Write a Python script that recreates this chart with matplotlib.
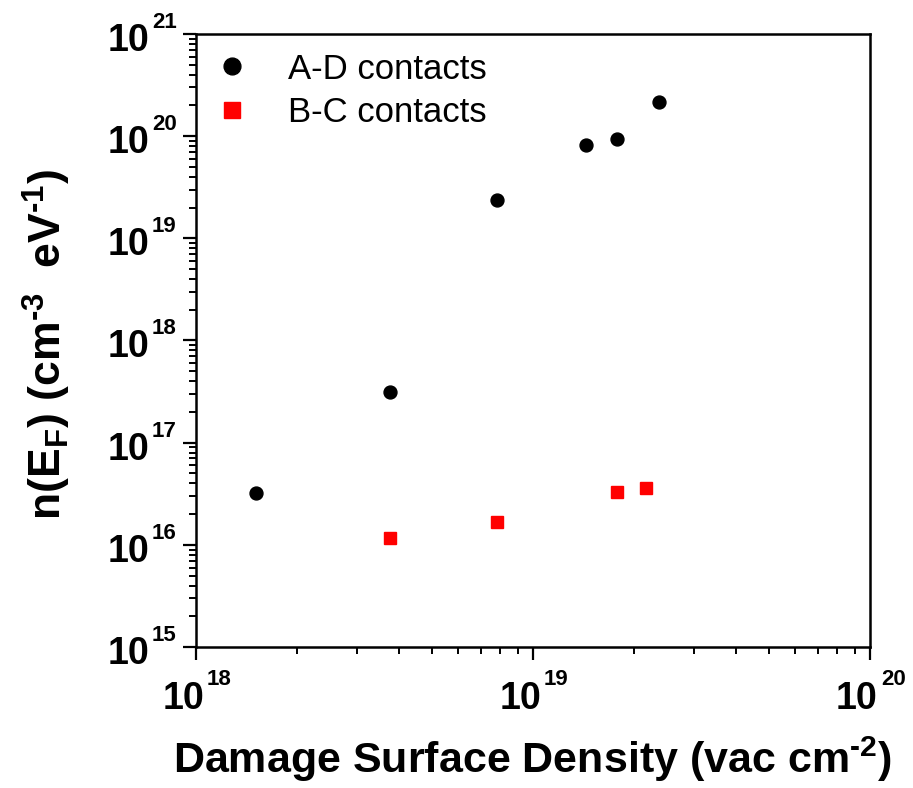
import matplotlib
matplotlib.use("Agg")
import matplotlib.pyplot as plt
from matplotlib.ticker import LogLocator, NullFormatter
import numpy as np

plt.rcParams["font.family"] = ["Liberation Sans", "DejaVu Sans"]
plt.rcParams["mathtext.fontset"] = "custom"
plt.rcParams["mathtext.rm"] = "Liberation Sans:bold"
plt.rcParams["mathtext.bf"] = "Liberation Sans:bold"
plt.rcParams["mathtext.it"] = "Liberation Sans:bold"

# Data
ad_x = [1.51e18, 3.76e18, 7.8e18, 1.44e19, 1.77e19, 2.37e19]
ad_y = [3.2e16, 3.1e17, 2.37e19, 8.2e19, 9.3e19, 2.17e20]
bc_x = [3.76e18, 7.8e18, 1.77e19, 2.17e19]
bc_y = [1.16e16, 1.68e16, 3.26e16, 3.57e16]

# decade exponents used as tick labels
x_decades = [18, 19, 20]
y_decades = [15, 16, 17, 18, 19, 20, 21]

fig = plt.figure(figsize=(9.13, 7.88), dpi=100)
ax = fig.add_axes([0.2147, 0.1789, 0.7382, 0.778])

ax.plot(ad_x, ad_y, "o", color="black", markersize=9.3, label="A-D contacts")
ax.plot(bc_x, bc_y, "s", color="red", markersize=8.4, label="B-C contacts")

ax.set_xscale("log")
ax.set_yscale("log")
ax.set_xlim(10.0 ** x_decades[0], 10.0 ** x_decades[-1])
ax.set_ylim(10.0 ** y_decades[0], 10.0 ** y_decades[-1])

ax.xaxis.set_major_locator(LogLocator(base=10, numticks=10))
ax.yaxis.set_major_locator(LogLocator(base=10, numticks=10))
ax.xaxis.set_minor_locator(LogLocator(base=10, subs=np.arange(2, 10), numticks=20))
ax.yaxis.set_minor_locator(LogLocator(base=10, subs=np.arange(2, 10), numticks=20))
for axis in (ax.xaxis, ax.yaxis):
    axis.set_major_formatter(NullFormatter())
    axis.set_minor_formatter(NullFormatter())

ax.tick_params(which="major", direction="out", length=9.5, width=1.6,
               top=False, right=False)
ax.tick_params(which="minor", direction="out", length=5, width=1.4,
               top=False, right=False)
for s in ax.spines.values():
    s.set_linewidth(1.8)

# tick labels: "10" with a small superscript exponent
for d in x_decades:
    ax.annotate("10", xy=(10.0 ** d, 0), xycoords=("data", "axes fraction"),
                xytext=(-13, -62), textcoords="offset pixels",
                ha="center", va="baseline", fontsize=27, fontweight="bold")
    ax.annotate(str(d), xy=(10.0 ** d, 0), xycoords=("data", "axes fraction"),
                xytext=(11, -38), textcoords="offset pixels",
                ha="left", va="baseline", fontsize=16, fontweight="bold")
for d in y_decades:
    ax.annotate("10", xy=(0, 10.0 ** d), xycoords=("axes fraction", "data"),
                xytext=(-47, -17), textcoords="offset pixels",
                ha="right", va="baseline", fontsize=27, fontweight="bold")
    ax.annotate(str(d), xy=(0, 10.0 ** d), xycoords=("axes fraction", "data"),
                xytext=(-44, 6), textcoords="offset pixels",
                ha="left", va="baseline", fontsize=16, fontweight="bold")

fig.text(532 / 913, 1 - 773 / 788, r"Damage Surface Density (vac cm$^{\text{-2}}$)",
         ha="center", va="baseline", fontsize=31, fontweight="bold")
fig.text(62 / 913, 1 - 344 / 788,
         r"n(E$_{F}$) (cm$^{\text{-3}}$  eV$^{\text{-1}}$)",
         rotation=90, rotation_mode="anchor", ha="center", va="baseline",
         fontsize=32, fontweight="bold")

ax.legend(loc="upper left", bbox_to_anchor=(0, 1 - 10 / 613), frameon=False,
          fontsize=25, handlelength=1.6, handletextpad=0.8, borderaxespad=0,
          borderpad=0.25, labelspacing=0.3, markerscale=1.3)

fig.savefig("out.png", dpi=100)
